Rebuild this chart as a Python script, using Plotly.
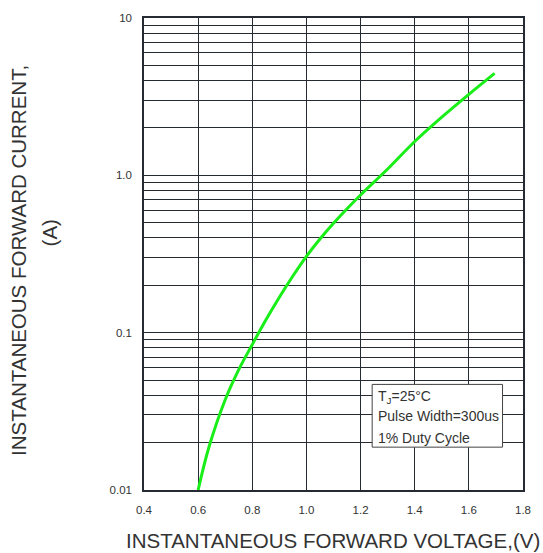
import plotly.graph_objects as go

# Data
voltage = [0.600, 0.640, 0.700, 0.750, 0.800, 0.850, 0.900, 0.950, 1.000,
           1.050, 1.100, 1.150, 1.200, 1.300, 1.400, 1.500, 1.600, 1.695]
current = [0.0100, 0.01875, 0.0375, 0.0582, 0.0841, 0.1202, 0.1679, 0.2291, 0.3055,
           0.3936, 0.4955, 0.6131, 0.7499, 1.0965, 1.641, 2.344, 3.273, 4.446]

y_tickvals = [0.01, 0.1, 1, 10]
y_ticktext = ["0.01", "0.1", "1.0", "10"]
x_tickvals = [0.4, 0.6, 0.8, 1.0, 1.2, 1.4, 1.6, 1.8]
x_ticktext = ["0.4", "0.6", "0.8", "1.0", "1.2", "1.4", "1.6", "1.8"]
minor_y = [m * d for d in (0.01, 0.1, 1) for m in range(2, 10)]

note_lines = ["T<sub>J</sub>=25°C", "Pulse Width=300us", "1% Duty Cycle"]

FONT = "Liberation Sans, Arial, sans-serif"
GRID = "#262b33"
TXT = "#333333"

fig = go.Figure()
fig.add_trace(go.Scatter(
    x=voltage, y=current, mode="lines",
    line=dict(color="#19ee19", width=3, shape="spline", smoothing=1.0),
    showlegend=False, hoverinfo="skip"))

fig.update_layout(
    width=543, height=553,
    margin=dict(l=144, r=18, t=13, b=63),
    paper_bgcolor="white", plot_bgcolor="white",
    font=dict(family=FONT, color=TXT, size=11),
    showlegend=False,
)

fig.update_xaxes(
    range=[0.4, 1.8], tickvals=x_tickvals, ticktext=x_ticktext,
    showgrid=True, gridcolor=GRID, gridwidth=1,
    showline=True, linecolor=GRID, linewidth=1.5, mirror=True,
    ticks="", ticklabelstandoff=8, zeroline=False,
    tickfont=dict(family=FONT, size=11.5, color=TXT),
)
fig.update_yaxes(
    type="log", range=[-2, 1], tickvals=y_tickvals, ticktext=y_ticktext,
    showgrid=True, gridcolor=GRID, gridwidth=1,
    minor=dict(tickvals=minor_y, showgrid=True, gridcolor=GRID, gridwidth=1, ticks=""),
    showline=True, linecolor=GRID, linewidth=1.5, mirror=True,
    ticks="", ticklabelstandoff=8, zeroline=False,
    tickfont=dict(family=FONT, size=11.5, color=TXT),
)

# Axis titles
fig.add_annotation(text="INSTANTANEOUS FORWARD CURRENT,", xref="paper", yref="paper",
                   x=-0.333, y=0.487, textangle=-90, showarrow=False,
                   xanchor="center", yanchor="middle",
                   font=dict(family=FONT, size=20.5, color=TXT))
fig.add_annotation(text="(A)", xref="paper", yref="paper",
                   x=-0.249, y=0.545, textangle=-90, showarrow=False,
                   xanchor="center", yanchor="middle",
                   font=dict(family=FONT, size=20.5, color=TXT))
fig.add_annotation(text="INSTANTANEOUS FORWARD VOLTAGE,(V)", xref="paper", yref="paper",
                   x=0.499, y=-0.107, showarrow=False,
                   xanchor="center", yanchor="middle",
                   font=dict(family=FONT, size=20.5, color=TXT))

# Conditions box
fig.add_shape(type="rect", xref="paper", yref="paper",
              x0=0.602, x1=0.946, y0=0.0908, y1=0.2237,
              line=dict(color="#444444", width=1), fillcolor="white", layer="above")
for line, yy in zip(note_lines, [0.198, 0.157, 0.110]):
    fig.add_annotation(text=line, xref="paper", yref="paper", x=0.612, y=yy,
                       showarrow=False, xanchor="left", yanchor="middle",
                       font=dict(family=FONT, size=14, color=TXT))

fig.write_html("out.html", config={"displayModeBar": False},
               post_script="document.body.style.margin='0';document.body.style.padding='0';")
